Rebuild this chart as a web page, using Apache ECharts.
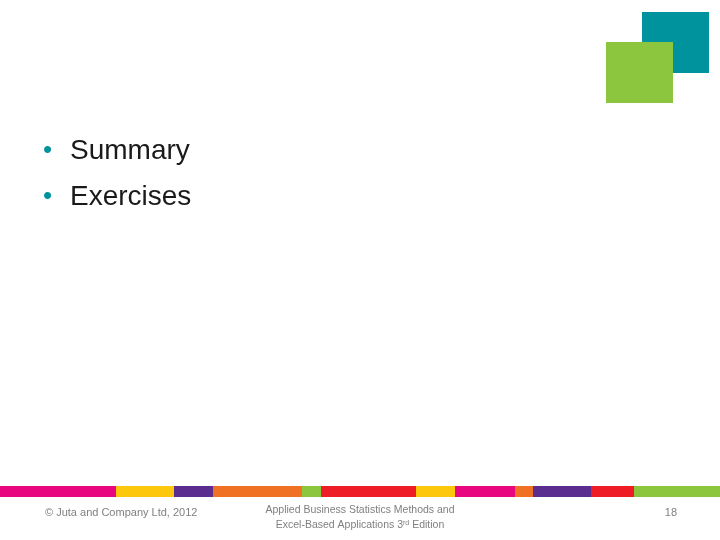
<!DOCTYPE html>
<html><head><meta charset="utf-8">
<script src="https://cdn.jsdelivr.net/npm/echarts@6/dist/echarts.min.js"></script>
<style>html,body{margin:0;padding:0;background:#fff}#c{width:720px;height:540px}</style>
</head><body><div id="c"></div>
<script>
const bullets = ['Summary', 'Exercises'];
const segWidths = [116, 58, 39, 89, 19, 95, 39, 60, 18, 58, 43, 86];
const segColors = ['#e8077f','#fdc80b','#5b2d8e','#f07124','#8cc63f','#ee1c24','#fdc80b','#e8077f','#f07124','#5b2d8e','#ee1c24','#8cc63f'];
const footerLeft = '© Juta and Company Ltd, 2012';
const footerMid = ['Applied Business Statistics Methods and', 'Excel-Based Applications 3rd Edition'];
const pageNum = '18';

const chart = echarts.init(document.getElementById('c'));
const series = segWidths.map((w, i) => ({
  type: 'bar', stack: 's', barWidth: 11, data: [w],
  itemStyle: { color: segColors[i] }, silent: true
}));
const font = 'Liberation Sans, sans-serif';
const graphic = [
  { type: 'rect', shape: { x: 642, y: 12, width: 67, height: 61 }, style: { fill: '#00939e' } },
  { type: 'rect', shape: { x: 606, y: 42, width: 67, height: 61 }, style: { fill: '#8cc63f' } }
];
bullets.forEach((b, i) => {
  const y = 151 + i * 46;
  graphic.push({ type: 'text', x: 43, y, style: { text: '•', fill: '#00939e', font: '26px ' + font, textVerticalAlign: 'middle' } });
  graphic.push({ type: 'text', x: 70, y, style: { text: b, fill: '#1a1a1a', font: '28px ' + font, textVerticalAlign: 'middle' } });
});
graphic.push({ type: 'text', x: 45, y: 513, style: { text: footerLeft, fill: '#7f7f7f', font: '11px ' + font, textVerticalAlign: 'middle' } });
graphic.push({ type: 'text', x: 360, y: 510, style: { text: footerMid[0], fill: '#7f7f7f', font: '10.5px ' + font, textAlign: 'center', textVerticalAlign: 'middle' } });
graphic.push({ type: 'text', x: 360, y: 525, style: { text: '{a|Excel-Based Applications 3}{s|rd}{a| Edition}', fill: '#7f7f7f', textAlign: 'center', textVerticalAlign: 'middle',
  rich: { a: { font: '10.5px ' + font, fill: '#7f7f7f' }, s: { font: '7px ' + font, fill: '#7f7f7f', verticalAlign: 'top', padding: [0,0,4,0] } } } });
graphic.push({ type: 'text', x: 677, y: 513, style: { text: pageNum, fill: '#7f7f7f', font: '11px ' + font, textAlign: 'right', textVerticalAlign: 'middle' } });

chart.setOption({
  animation: false,
  grid: { left: 0, right: 0, top: 486, height: 11 },
  xAxis: { type: 'value', min: 0, max: 720, show: false },
  yAxis: { type: 'category', data: ['bar'], show: false },
  series,
  graphic
});
</script></body></html>
